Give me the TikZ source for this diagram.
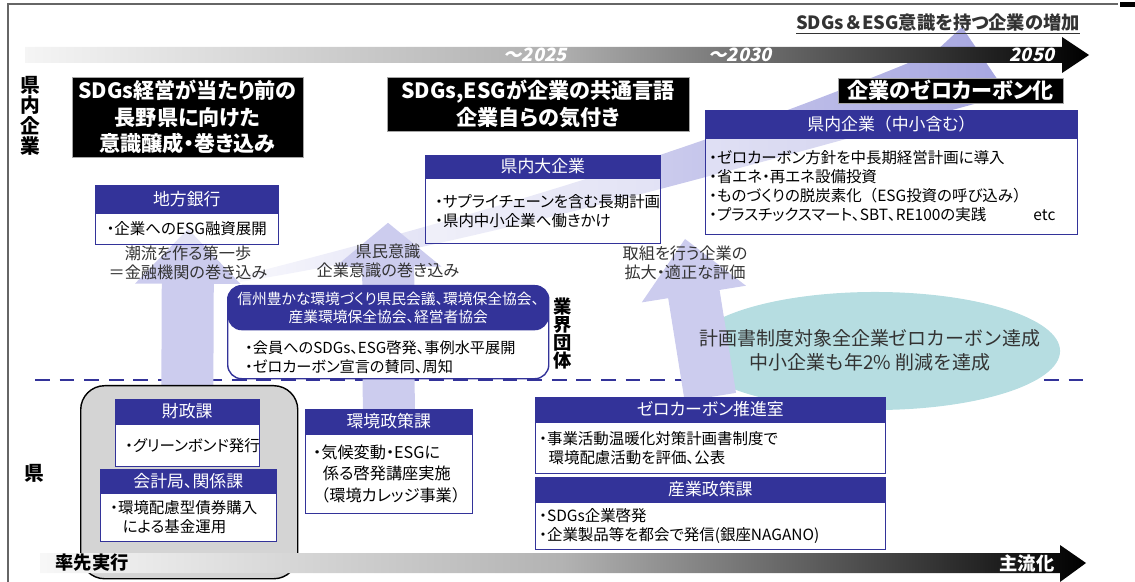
\documentclass[tikz,border=0pt]{standalone}
\usepackage{fontspec}
\setmainfont{Noto Sans CJK JP}[RawFeature=+palt]
\newfontfamily\plainjp{Noto Sans CJK JP}
\newfontfamily\yearfont{Noto Sans CJK JP}[FakeSlant=0.22]
\usepackage{tikz}
\usepackage{xcolor}
\usetikzlibrary{shapes.geometric, arrows.meta, positioning}
\pgfdeclarelayer{bottom}
\pgfdeclarelayer{background}
\pgfsetlayers{bottom,background,main}
\definecolor{navy}{HTML}{333399}
\definecolor{lavender}{HTML}{CCCCEE}
\definecolor{bandblue}{HTML}{A6A6E0}
\definecolor{tealfill}{HTML}{B6DDE1}
\definecolor{boxgray}{HTML}{D4D4D4}
\definecolor{darktext}{HTML}{333333}
\tikzstyle{titlebox} = [rectangle, 
fill=black, 
draw=gray!70, 
text=white, 
align=center, 
inner sep=0pt,
font=\fontsize{15}{19}\selectfont\bfseries]
\tikzstyle{header} = [rectangle, 
fill=navy, 
draw=navy, 
text=white, 
anchor=north west, 
inner sep=0pt,
font=\fontsize{12}{14}\selectfont]
\tikzstyle{body} = [rectangle, 
draw=navy, 
line width=1pt, 
fill=white, 
text=black, 
align=left, 
inner xsep=0.25cm, 
inner ysep=0pt,
font=\fontsize{11}{13.5}\selectfont]
\tikzstyle{glassbody} = [body, fill opacity=0.45, text opacity=1]
\tikzstyle{note} = [align=center, inner sep=0pt, text=darktext, font=\fontsize{11.5}{13.5}\selectfont]
\tikzstyle{sidelabel} = [align=center, inner sep=0pt, font=\fontsize{14}{14.6}\selectfont\bfseries]
\tikzstyle{yearlabel} = [text=white, inner sep=0pt, font=\yearfont\bfseries\fontsize{13}{15}\selectfont]
\tikzstyle{bigarrow} = [lavender, line width=1.3cm]
\tikzstyle{divider} = [navy, line width=2pt, dash pattern=on 10.5pt off 7pt]

\begin{document}
\begin{tikzpicture}[x=0.025cm, y=-0.025cm, node distance=0pt]
        \useasboundingbox (0,0) rectangle (1135,582);

        % --- Marco ---
        \draw [gray!80!black, line width=0.8pt] (8,582) -- (8,4) -- (1118,4);
        \draw [black, line width=3pt] (1120,4.5) -- (1135,4.5);

        % --- Flecha superior (tiempo) ---
        \shade [left color=black!4, right color=black, middle color=black!31]
            (25,47) -- (1062,47) -- (1062,37) -- (1089,55) -- (1062,73) -- (1062,63) -- (25,63) -- cycle;
        \node (y2025) [yearlabel] at (535,55) {～2025};
        \node (y2030) [yearlabel] at (740,55) {～2030};
        \node (y2050) [yearlabel] at (1032,55) {2050};
        \node (trend) [inner sep=0pt, text=darktext, font=\fontsize{13}{15}\selectfont\bfseries] at (938,24) {\underline{SDGs{\plainjp ＆}ESG意識を持つ企業の増加}};

        % --- Etiquetas laterales ---
        \node (corp) [sidelabel] at (30,116) {県\\内\\企\\業};
        \node (pref) [sidelabel] at (34,473) {県};
        \node (gyokai) [sidelabel, font=\fontsize{13}{12.8}\selectfont\bfseries] at (563,334) {業\\界\\団\\体};

        % --- Titulos negros ---
        \node (goal1) [titlebox, minimum width=5.775cm, minimum height=2cm] at (187.5,117) {SDGs経営が当たり前の\\長野県に向けた\\意識醸成・巻き込み};
        \node (goal2) [titlebox, minimum width=7.55cm, minimum height=1.35cm] at (538,104) {SDGs,ESGが企業の共通言語\\企業自らの気付き};
        \node (goal3) [titlebox, minimum width=5.625cm, minimum height=0.625cm] at (950.5,90.5) {企業のゼロカーボン化};

        % --- Cajas de empresas ---
        \node (bank) [header, minimum width=4.575cm, minimum height=0.675cm] at (95,185) {地方銀行};
        \node (bankbody) [glassbody, below=0pt of bank, minimum width=4.575cm, text width=4.075cm, minimum height=0.775cm, align=center] {・企業へのESG融資展開};

        \node (bigcorp) [header, minimum width=5.875cm, minimum height=0.55cm] at (425,155) {県内大企業};
        \node (bigcorpbody) [glassbody, below=0pt of bigcorp, minimum width=5.875cm, text width=5.375cm, minimum height=1.625cm] {・サプライチェーンを含む長期計画\\・県内中小企業へ働きかけ};

        \node (smecorp) [header, minimum width=9.3cm, minimum height=0.675cm] at (705,110) {県内企業{\plainjp （}中小含む{\plainjp ）}};
        \node (smecorpbody) [glassbody, below=0pt of smecorp, minimum width=9.3cm, inner xsep=0.1cm, text width=9.1cm, minimum height=2.4cm] {・ゼロカーボン方針を中長期経営計画に導入\\・省エネ・再エネ設備投資\\・ものづくりの脱炭素化{\plainjp （}ESG投資の呼び込み{\plainjp ）}\\・プラスチックスマート、SBT、RE100の実践\hfill etc\hspace*{0.45cm}};

        % --- Textos de las flechas ---
        \node (choryu) [note] at (188,263) {潮流を作る第一歩\\＝金融機関の巻き込み};
        \node (kenmin) [note] at (388,261) {県民意識\\企業意識の巻き込み};
        \node (torikumi) [note] at (685,263) {取組を行う企業の\\拡大・適正な評価};

        % --- Caja de grupos industriales ---
        \node (assoc) [rectangle, rounded corners=0.35cm, draw=navy, line width=1pt, fill=white, minimum width=8.025cm, minimum height=2.325cm, anchor=north west] at (227,285) {};
        \node (assochead) [rectangle, rounded corners=0.35cm, fill=navy, text=white, minimum width=8.025cm, minimum height=1.125cm, anchor=north, align=center, inner sep=0pt, font=\fontsize{10.5}{13}\selectfont] at (assoc.north) {信州豊かな環境づくり県民会議、環境保全協会、\\産業環境保全協会、経営者協会};
        \node (assocbody) [anchor=west, align=left, inner sep=0pt, font=\fontsize{10.8}{13.5}\selectfont] at (245,357) {・会員へのSDGs、ESG啓発、事例水平展開\\・ゼロカーボン宣言の賛同、周知};

        % --- Elipse objetivo ---
        \node (goaltext) [align=center, inner sep=0pt, text=darktext, font=\plainjp\fontsize{13.5}{17}\selectfont] at (870,350) {計画書制度対象全企業ゼロカーボン達成\\中小企業も年2\% 削減を達成};

        % --- Caja gris (prefectura) ---
        \node (kenbox) [rectangle, rounded corners=0.6cm, fill=boxgray, draw=black, line width=1pt, minimum width=5.425cm, minimum height=4.825cm, anchor=north west] at (80,385) {};
        \node (zaisei) [header, minimum width=3.6cm, minimum height=0.6cm] at (115,399) {財政課};
        \node (zaiseibody) [body, below=0pt of zaisei, minimum width=3.6cm, text width=3.1cm, minimum height=1.05cm, align=center] {・グリーンボンド発行};
        \node (kaikei) [header, minimum width=4.4cm, minimum height=0.575cm] at (100,469) {会計局、関係課};
        \node (kaikeibody) [body, below=0pt of kaikei, minimum width=4.4cm, text width=3.9cm, minimum height=1.2cm] {・環境配慮型債券購入\\\hspace*{0.8em}による基金運用};

        \node (kankyo) [header, minimum width=4.175cm, minimum height=0.6cm] at (305,409) {環境政策課};
        \node (kankyobody) [body, below=0pt of kankyo, minimum width=4.175cm, text width=3.775cm, inner xsep=0.2cm, minimum height=1.975cm, font=\fontsize{11.5}{15.5}\selectfont] {・気候変動・ESGに\\\hspace*{0.6em}係る啓発講座実施\\{\plainjp （}環境カレッジ事業{\plainjp ）}};

        \node (zerocarbon) [header, minimum width=8.75cm, minimum height=0.6cm] at (535,397) {ゼロカーボン推進室};
        \node (zerocarbonbody) [body, below=0pt of zerocarbon, minimum width=8.75cm, inner xsep=0.1cm, text width=8.55cm, minimum height=1.275cm] {・事業活動温暖化対策計画書制度で\\\hspace*{0.6em}環境配慮活動を評価、公表};
        \node (sangyo) [header, minimum width=8.75cm, minimum height=0.6cm] at (535,477) {産業政策課};
        \node (sangyobody) [body, below=0pt of sangyo, minimum width=8.75cm, inner xsep=0.1cm, text width=8.55cm, minimum height=1.175cm] {・SDGs企業啓発\\・企業製品等を都会で発信(銀座NAGANO)};

        % --- Flecha inferior ---
        \shade [left color=black!3, right color=black, middle color=black!30]
            (40,553) -- (1060,553) -- (1060,545) -- (1086,563) -- (1060,582) -- (1060,573) -- (40,573) -- cycle;
        \node (sensen) [inner sep=0pt, font=\fontsize{13}{15}\selectfont\bfseries] at (92,563) {率先実行};
        \node (shuryu) [inner sep=0pt, text=white, font=\fontsize{13}{15}\selectfont\bfseries] at (1027,563) {主流化};

        % --- Capas de fondo ---
        \begin{pgfonlayer}{bottom}
            \draw [divider] (35,380) -- (1090,380);
            \node (goal) [ellipse, fill=tealfill, minimum width=9.25cm, minimum height=2.95cm, inner sep=0pt] at (875,351) {};
        \end{pgfonlayer}
        \begin{pgfonlayer}{background}
            % banda de crecimiento
            \shade [left color=lavender!15, right color=bandblue]
                (240,276) .. controls (480,215) and (700,150) .. (935,52) -- (962,27) -- (1008,95)
                .. controls (800,150) and (500,240) .. (240,282) -- cycle;
            % flechas hacia arriba
            \draw [bigarrow, -{Triangle[width=2.55cm, length=1.375cm]}] (zaisei.north) -- ([yshift=0.425cm]choryu.north);
            \draw [bigarrow, -{Triangle[width=2.6cm, length=1.1cm]}] (kankyo.north) -- ([yshift=0.525cm]kenmin.north);
            \draw [bigarrow, -{Triangle[width=2.55cm, length=1.4cm]}] (zerocarbon.north) -- ([yshift=0.175cm]torikumi.north);
        \end{pgfonlayer}

    \end{tikzpicture}
\end{document}
